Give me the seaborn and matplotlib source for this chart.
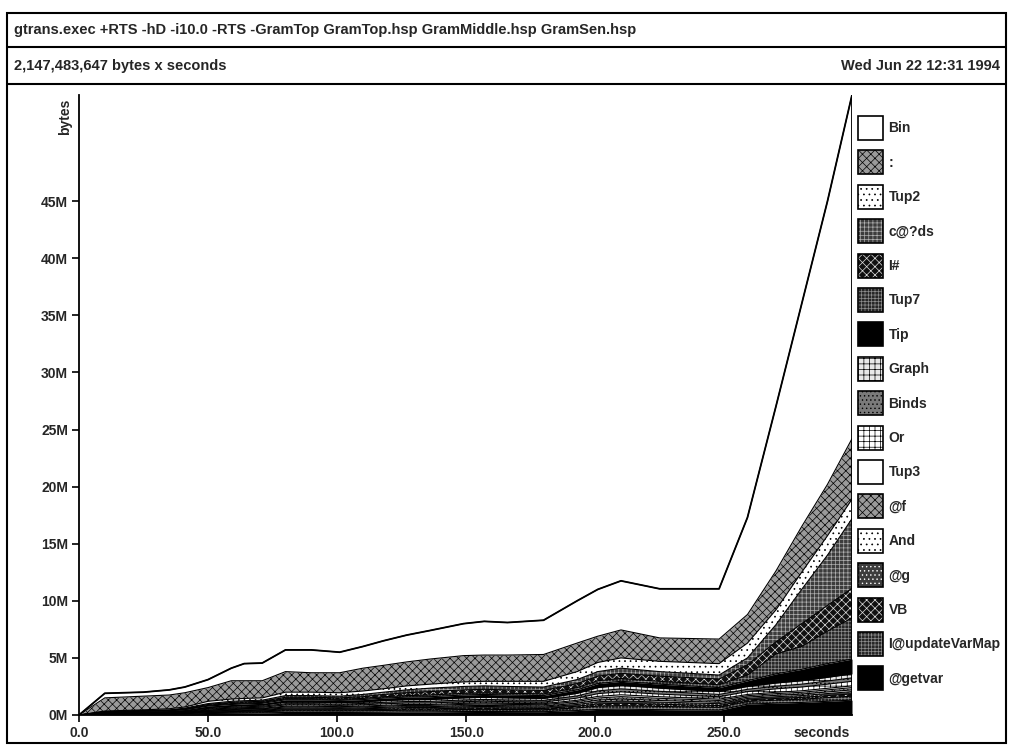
import numpy as np
import pandas as pd
import matplotlib
matplotlib.use("Agg")
import matplotlib.pyplot as plt
import seaborn as sns
from matplotlib.patches import Patch, Rectangle
from matplotlib.lines import Line2D
from matplotlib.legend_handler import HandlerTuple

# ---- heap profile samples (seconds, megabytes per cost centre) ----
seconds = [0, 10, 25, 35, 41, 50, 59, 64, 71, 80, 90, 101, 110, 118, 127,
           136, 149, 157, 166, 180, 193, 201, 210, 225, 248, 259, 270, 280, 290, 299.5]

bin_mb = [0, .4, .35, .45, .5, .7, 1.1, 1.5, 1.55, 1.9, 2.0, 1.8, 1.9, 2.15, 2.35,
          2.5, 2.8, 2.95, 2.85, 3.0, 3.7, 4.1, 4.3, 4.3, 4.4, 8.5, 14.4, 19.5, 24.8, 30.1]
cons_mb = [0, 1.15, 1.2, 1.2, 1.25, 1.2, 1.6, 1.55, 1.5, 1.8, 1.7, 1.75, 2.0, 2.05, 2.1,
           2.2, 2.3, 2.3, 2.3, 2.35, 2.5, 2.3, 2.45, 2.05, 2.15, 2.5, 3.4, 4.0, 4.5, 5.3]
tup2_mb = [0, .05, .05, .1, .1, .2, .2, .2, .2, .3, .3, .3, .3, .3, .35,
           .35, .4, .4, .45, .5, .7, .8, .9, .9, 1.0, 1.3, 1.3, 1.5, 1.7, 1.7]
cds_mb = [0, .02, .03, .03, .05, .08, .1, .1, .1, .15, .15, .15, .2, .2, .25,
          .3, .3, .3, .3, .3, .35, .4, .45, .4, .35, .6, 1.5, 3.0, 4.4, 6.1]
ihash_mb = [0, .02, .03, .03, .05, .08, .1, .1, .1, .12, .12, .12, .15, .2, .25,
            .3, .3, .3, .3, .3, .35, .4, .45, .45, .5, .9, 1.05, 2.0, 2.25, 2.6]
tup7_mb = [0, .02, .02, .03, .04, .06, .08, .08, .08, .1, .1, .1, .1, .12, .13,
           .15, .15, .15, .15, .15, .2, .25, .25, .25, .25, .5, 1.75, 2.0, 2.85, 3.6]
tip_mb = [0, .05, .06, .07, .08, .12, .15, .15, .15, .2, .2, .2, .2, .22, .23,
          .25, .25, .25, .25, .25, .3, .35, .35, .35, .35, .5, .8, 1.0, 1.2, 1.3]
graph_mb = [0, .02, .03, .03, .05, .08, .09, .10, .10, .14, .14, .13, .14, .15, .16,
            .16, .18, .19, .18, .17, .23, .29, .31, .28, .25, .25, .28, .30, .32, .35]
binds_mb = [0, .02, .03, .03, .04, .07, .08, .08, .09, .11, .11, .11, .12, .13, .13,
            .14, .15, .15, .15, .15, .19, .24, .26, .24, .20, .20, .23, .25, .28, .30]
or_mb = [0, .02, .03, .03, .04, .07, .08, .08, .09, .11, .11, .11, .11, .13, .13,
         .13, .15, .16, .15, .14, .19, .24, .26, .23, .21, .25, .30, .33, .36, .40]
tup3_mb = [0, .01, .02, .02, .02, .04, .05, .05, .05, .07, .07, .06, .07, .08, .08,
           .08, .09, .09, .09, .09, .11, .14, .16, .14, .12, .11, .12, .13, .14, .15]
f_mb = [0, .02, .02, .02, .03, .05, .06, .07, .07, .09, .09, .09, .09, .10, .11,
        .11, .12, .12, .12, .12, .15, .19, .21, .19, .16, .13, .15, .16, .18, .20]
and_mb = [0, .01, .02, .02, .02, .04, .05, .05, .05, .07, .07, .06, .07, .08, .08,
          .08, .09, .09, .09, .09, .11, .14, .16, .14, .12, .11, .12, .13, .14, .15]
g_mb = [0, .02, .02, .03, .03, .05, .06, .07, .07, .09, .09, .09, .09, .10, .11,
        .11, .12, .13, .12, .12, .15, .19, .21, .19, .16, .13, .15, .16, .18, .20]
vb_mb = [0, .02, .02, .03, .03, .05, .06, .06, .07, .09, .09, .08, .09, .10, .11,
         .11, .12, .12, .12, .11, .15, .19, .21, .19, .16, .13, .15, .16, .18, .20]
updvar_mb = [0, .02, .03, .03, .05, .08, .09, .10, .10, .14, .14, .13, .14, .15, .16,
             .16, .18, .19, .18, .17, .23, .29, .31, .28, .25, .24, .26, .28, .32, .35]
getvar_mb = [0, .03, .04, .05, .07, .13, .15, .16, .18, .22, .22, .22, .23, .24, .27,
             .27, .30, .31, .30, .29, .39, .49, .51, .47, .42, .95, 1.04, 1.10, 1.20, 1.30]

# legend order (top band first)
band_names = ["Bin", ":", "Tup2", "c@?ds", "I#", "Tup7", "Tip", "Graph", "Binds",
              "Or", "Tup3", "@f", "And", "@g", "VB", "I@updateVarMap", "@getvar"]
band_values = [bin_mb, cons_mb, tup2_mb, cds_mb, ihash_mb, tup7_mb, tip_mb, graph_mb,
               binds_mb, or_mb, tup3_mb, f_mb, and_mb, g_mb, vb_mb, updvar_mb, getvar_mb]

x_ticks = [0, 50, 100, 150, 200, 250]
x_tick_labels = ["0.0", "50.0", "100.0", "150.0", "200.0", "250.0"]
y_ticks = [0, 5, 10, 15, 20, 25, 30, 35, 40, 45]
y_tick_labels = ["0M", "5M", "10M", "15M", "20M", "25M", "30M", "35M", "40M", "45M"]

title_text = "gtrans.exec +RTS -hD -i10.0 -RTS -GramTop GramTop.hsp GramMiddle.hsp GramSen.hsp"
bytes_text = "2,147,483,647 bytes x seconds"
date_text = "Wed Jun 22 12:31 1994"

# (face colour, hatch, hatch colour) for each band, same order as band_names
styles = [
    ("white", "", "black"),
    ("#9a9a9a", "xxxx", "black"),
    ("white", "...", "black"),
    ("#3c3c3c", "++++", "#b0b0b0"),
    ("#101010", "xxxx", "#e0e0e0"),
    ("#262626", "+++++", "#8c8c8c"),
    ("black", "", "black"),
    ("#e8e8e8", "+++", "black"),
    ("#7a7a7a", "....", "black"),
    ("white", "+++", "black"),
    ("white", "", "black"),
    ("#9a9a9a", "xxxx", "black"),
    ("white", "...", "black"),
    ("#3c3c3c", "....", "white"),
    ("#101010", "xxxx", "#e0e0e0"),
    ("#262626", "+++++", "#8c8c8c"),
    ("black", "", "black"),
]

sns.set_theme(style="white")
plt.rcParams["font.family"] = ["Liberation Sans", "DejaVu Sans"]
plt.rcParams["font.weight"] = "bold"
plt.rcParams["hatch.linewidth"] = 0.5

W, H = 1013, 745
fig = plt.figure(figsize=(W / 100, H / 100), dpi=100)
fig.patch.set_facecolor("white")


def fx(px):
    return px / W


def fy(py):
    return 1 - py / H


ax = fig.add_axes([fx(79), fy(715), fx(852) - fx(79), fy(95) - fy(715)])
ax.set_facecolor("white")

t = np.array(seconds, dtype=float)
stack_order = list(range(len(band_names)))[::-1]      # bottom band first
lower = np.zeros_like(t)
tops = {}
for i in stack_order:
    vals = np.array(band_values[i], dtype=float)
    upper = lower + vals
    fc, hatch, hc = styles[i]
    ax.fill_between(t, lower, upper, facecolor=fc, hatch=hatch or None,
                    edgecolor=hc, linewidth=0, zorder=2)
    tops[band_names[i]] = upper
    lower = upper

# band boundaries
edges = pd.concat(
    [pd.DataFrame({"seconds": t, "MB": tops[n], "band": n}) for n in band_names],
    ignore_index=True)
sns.lineplot(data=edges, x="seconds", y="MB", hue="band",
             palette={n: "black" for n in band_names}, estimator=None,
             sort=False, legend=False, linewidth=0.8, ax=ax, zorder=3)
total = tops["Bin"]
ax.plot(t, total, color="black", linewidth=1.3, zorder=4)
ax.plot([t[-1], t[-1]], [0, total[-1]], color="black", linewidth=1.3, zorder=4)

ax.set_xlim(0, t[-1])
ax.set_ylim(0, total.max())
ax.set_xticks(x_ticks)
ax.set_xticklabels(x_tick_labels)
ax.set_yticks(y_ticks)
ax.set_yticklabels(y_tick_labels)
ax.set_xlabel("")
ax.set_ylabel("")
for side in ("top", "right"):
    ax.spines[side].set_visible(False)
for side in ("left", "bottom"):
    ax.spines[side].set_color("black")
    ax.spines[side].set_linewidth(1.3)
    ax.spines[side].set_zorder(5)
ax.tick_params(axis="both", direction="out", length=5, width=1.2, color="black",
               labelsize=10, pad=3, bottom=True, left=True)
for lab in ax.get_xticklabels() + ax.get_yticklabels():
    lab.set_fontweight("bold")

# axis captions
fig.text(fx(65), fy(99), "bytes", rotation=90, ha="center", va="top",
         fontsize=10, fontweight="bold")
fig.text(fx(850), fy(733), "seconds", ha="right", va="center",
         fontsize=10, fontweight="bold")

# header and outer frame
fig.add_artist(Rectangle((fx(7), fy(743)), fx(1006) - fx(7), fy(13) - fy(743),
                         transform=fig.transFigure, fill=False,
                         edgecolor="black", linewidth=1.5))
for yy in (47, 84):
    fig.add_artist(Line2D([fx(7), fx(1006)], [fy(yy), fy(yy)],
                          transform=fig.transFigure, color="black", linewidth=1.5))
fig.text(fx(14), fy(30), title_text, ha="left", va="center",
         fontsize=10.5, fontweight="bold")
fig.text(fx(14), fy(66), bytes_text, ha="left", va="center",
         fontsize=10.5, fontweight="bold")
fig.text(fx(1000), fy(66), date_text, ha="right", va="center",
         fontsize=10.5, fontweight="bold")

# key
handles = []
for fc, hatch, hc in styles:
    fill = Patch(facecolor=fc, hatch=hatch or None, edgecolor=hc, linewidth=0)
    border = Patch(facecolor="none", edgecolor="black", linewidth=1.2)
    handles.append((fill, border))
fig.legend(handles, band_names, loc="upper left",
           bbox_to_anchor=(fx(858), fy(116)), frameon=False,
           borderpad=0, borderaxespad=0, handlelength=1.8, handleheight=2.28,
           labelspacing=0.75, handletextpad=0.4,
           prop={"size": 10, "weight": "bold"},
           handler_map={tuple: HandlerTuple(ndivide=1, pad=0)})

fig.savefig("out.png", dpi=100, facecolor="white")
